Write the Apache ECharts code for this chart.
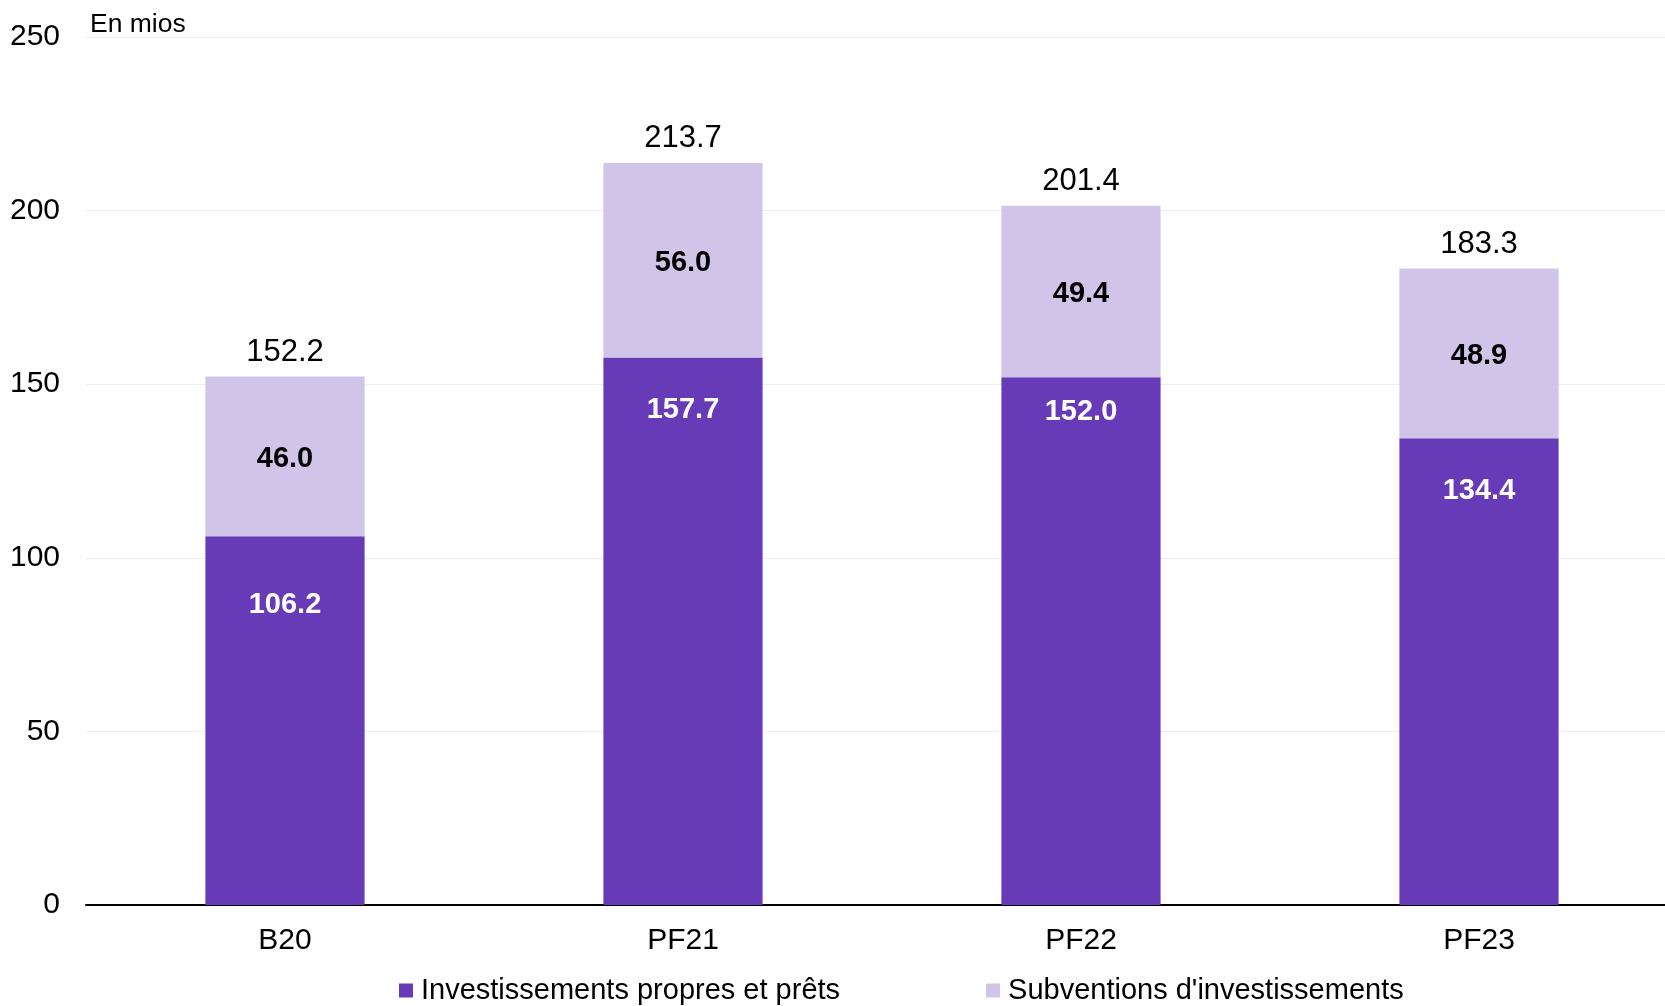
<!DOCTYPE html>
<html>
<head>
<meta charset="utf-8">
<script src="https://cdn.jsdelivr.net/npm/echarts@6/dist/echarts.min.js"></script>
<style>
  html, body { margin: 0; padding: 0; background: #fff; overflow: hidden; }
  #chart { width: 1678px; height: 1006px; }
</style>
</head>
<body>
<div id="chart"></div>
<script>
// catégories et valeurs
var categories = ["B20", "PF21", "PF22", "PF23"];
var propres = [106.2, 157.7, 152.0, 134.4];
var subventions = [46.0, 56.0, 49.4, 48.9];
var totals = [152.2, 213.7, 201.4, 183.3];
var yTicks = [0, 50, 100, 150, 200, 250];

// décalage des étiquettes blanches depuis le haut de la barre (style)
var darkLabelDist = [54, 38, 20, 38];

var chart = echarts.init(document.getElementById("chart"));
var font = "'Liberation Sans', Arial, sans-serif";

var option = {
  animation: false,
  textStyle: { fontFamily: font },
  title: {
    text: "En mios",
    left: 85,
    top: 6,
    textStyle: { fontFamily: font, fontSize: 26.5, fontWeight: "normal", color: "#000" }
  },
  legend: {
    data: ["Investissements propres et prêts", "Subventions d'investissements"],
    left: 399,
    top: 976,
    padding: 0,
    itemWidth: 14,
    itemHeight: 14,
    itemGap: 146,
    icon: "rect",
    textStyle: { fontFamily: font, fontSize: 29, color: "#000", padding: [0, 0, 0, 3] }
  },
  // la zone de tracé déborde un peu à droite, comme sur l'original
  grid: { left: 86, right: 0, top: 37, bottom: 101 },
  xAxis: {
    type: "category",
    data: categories,
    axisLine: { lineStyle: { color: "#000", width: 2 } },
    axisTick: { show: false },
    axisLabel: { fontFamily: font, fontSize: 30, color: "#000", margin: 21 }
  },
  yAxis: {
    type: "value",
    min: yTicks[0],
    max: yTicks[yTicks.length - 1],
    interval: 50,
    axisLine: { show: false },
    axisTick: { show: false },
    axisLabel: { fontFamily: font, fontSize: 30, color: "#000", margin: 26, padding: [3, 0, 0, 0] },
    splitLine: { lineStyle: { color: "#eeeeee", width: 1 } }
  },
  series: [
    {
      name: "Investissements propres et prêts",
      type: "bar",
      stack: "total",
      barWidth: "40%",
      itemStyle: { color: "#673AB7" },
      data: propres.map(function (v, i) {
        return {
          value: v,
          label: { distance: darkLabelDist[i] }
        };
      }),
      label: {
        show: true,
        position: "insideTop",
        fontFamily: font,
        fontSize: 29,
        fontWeight: "bold",
        color: "#fff",
        formatter: function (p) { return p.value.toFixed(1); }
      }
    },
    {
      name: "Subventions d'investissements",
      type: "bar",
      stack: "total",
      itemStyle: { color: "#D1C4E9" },
      data: subventions,
      label: {
        show: true,
        position: "inside",
        offset: [0, 3],
        fontFamily: font,
        fontSize: 29,
        fontWeight: "bold",
        color: "#000",
        formatter: function (p) { return p.value.toFixed(1); }
      }
    },
    {
      name: "total",
      type: "bar",
      stack: "total",
      data: totals.map(function () { return 0; }),
      itemStyle: { color: "transparent" },
      label: {
        show: true,
        position: "top",
        distance: 9,
        fontFamily: font,
        fontSize: 31,
        color: "#000",
        formatter: function (p) { return totals[p.dataIndex].toFixed(1); }
      }
    }
  ]
};

chart.setOption(option);
window.addEventListener("resize", function () { chart.resize(); });
</script>
</body>
</html>
